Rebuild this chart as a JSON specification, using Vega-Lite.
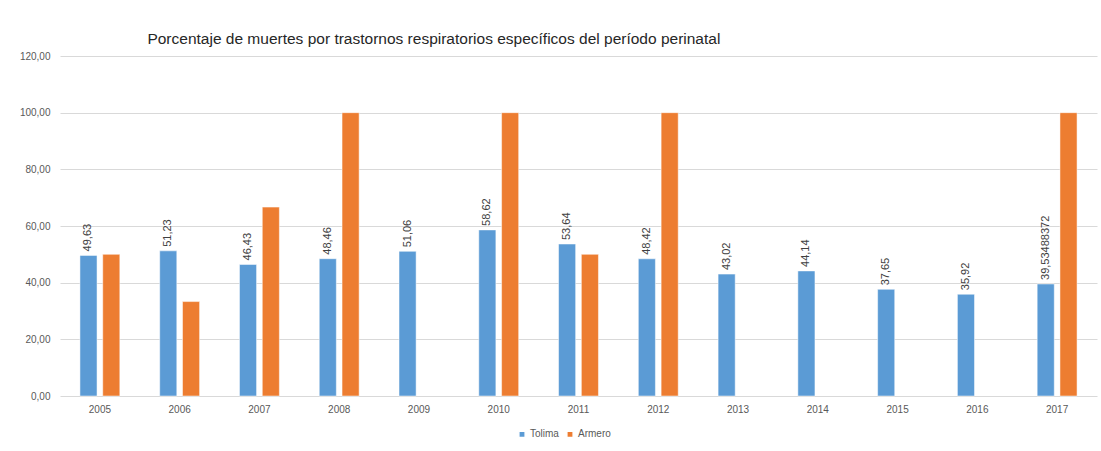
{
  "$schema": "https://vega.github.io/schema/vega-lite/v6.json",
  "width": 1037,
  "height": 340,
  "autosize": {"type": "none"},
  "padding": {"left": 60, "top": 56, "right": 4, "bottom": 55},
  "background": "white",
  "title": {
    "text": "Porcentaje de muertes por trastornos respiratorios específicos del período perinatal",
    "anchor": "start",
    "dx": 128,
    "offset": 4,
    "font": "Liberation Sans",
    "fontSize": 15.5,
    "fontWeight": "normal",
    "color": "#262626"
  },
  "data": {
    "values": [
      {"year": "2005", "series": "Tolima", "value": 49.63},
      {"year": "2006", "series": "Tolima", "value": 51.23},
      {"year": "2007", "series": "Tolima", "value": 46.43},
      {"year": "2008", "series": "Tolima", "value": 48.46},
      {"year": "2009", "series": "Tolima", "value": 51.06},
      {"year": "2010", "series": "Tolima", "value": 58.62},
      {"year": "2011", "series": "Tolima", "value": 53.64},
      {"year": "2012", "series": "Tolima", "value": 48.42},
      {"year": "2013", "series": "Tolima", "value": 43.02},
      {"year": "2014", "series": "Tolima", "value": 44.14},
      {"year": "2015", "series": "Tolima", "value": 37.65},
      {"year": "2016", "series": "Tolima", "value": 35.92},
      {"year": "2017", "series": "Tolima", "value": 39.53488372},
      {"year": "2005", "series": "Armero", "value": 50},
      {"year": "2006", "series": "Armero", "value": 33.33},
      {"year": "2007", "series": "Armero", "value": 66.67},
      {"year": "2008", "series": "Armero", "value": 100},
      {"year": "2010", "series": "Armero", "value": 100},
      {"year": "2011", "series": "Armero", "value": 50},
      {"year": "2012", "series": "Armero", "value": 100},
      {"year": "2017", "series": "Armero", "value": 100}
    ]
  },
  "encoding": {
    "x": {
      "field": "year",
      "type": "nominal",
      "scale": {"paddingInner": 0.5, "paddingOuter": 0.25},
      "axis": {"title": null, "labelAngle": 0, "ticks": false, "domain": false, "labelPadding": 8}
    },
    "xOffset": {"field": "series", "type": "nominal", "sort": ["Tolima", "Armero"], "scale": {"paddingInner": 0.25}},
    "y": {
      "field": "value",
      "type": "quantitative",
      "scale": {"domain": [0, 120], "nice": false},
      "axis": {
        "title": null,
        "values": [0, 20, 40, 60, 80, 100, 120],
        "labelExpr": "replace(format(datum.value, '.2f'), '.', ',')",
        "ticks": false,
        "domain": false,
        "labelPadding": 10
      }
    }
  },
  "layer": [
    {
      "mark": {"type": "bar", "stroke": "white", "strokeWidth": 0.5},
      "encoding": {
        "color": {
          "field": "series",
          "type": "nominal",
          "sort": ["Tolima", "Armero"],
          "scale": {"domain": ["Tolima", "Armero"], "range": ["#5b9bd5", "#ed7d31"]},
          "legend": {
            "title": null,
            "orient": "none",
            "legendX": 457,
            "legendY": 373,
            "direction": "horizontal",
            "symbolType": "square",
            "symbolSize": 40,
            "labelOffset": 3,
            "labelFontSize": 10,
            "labelFont": "Liberation Sans",
            "labelColor": "#595959",
            "columnPadding": 4
          }
        }
      }
    },
    {
      "transform": [
        {"filter": "datum.series == 'Tolima'"},
        {"calculate": "replace(toString(datum.value), '.', ',')", "as": "label"}
      ],
      "mark": {
        "type": "text",
        "angle": 270,
        "align": "left",
        "baseline": "middle",
        "dx": 4,
        "font": "Liberation Sans",
        "fontSize": 11,
        "color": "#404040"
      },
      "encoding": {"text": {"field": "label"}}
    }
  ],
  "config": {
    "view": {"stroke": null},
    "axis": {
      "labelFont": "Liberation Sans",
      "labelFontSize": 10,
      "labelColor": "#595959",
      "gridColor": "#d9d9d9",
      "gridWidth": 1
    },
    "axisX": {"grid": false}
  }
}
